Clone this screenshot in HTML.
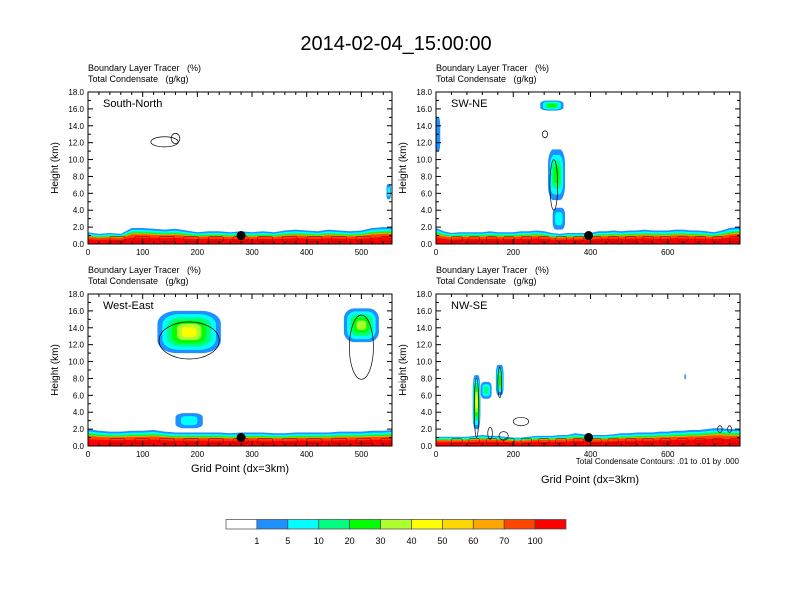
<!DOCTYPE html>
<html><head><meta charset="utf-8"><style>
body{margin:0;background:#fff;}
svg{display:block;font-family:"Liberation Sans",sans-serif;}
</style></head><body>
<svg id="c" width="792" height="612" viewBox="0 0 792 612">
<text x="396" y="50" font-size="20" text-anchor="middle">2014-02-04_15:00:00</text>
</svg>
<script>
const colors=["#ffffff","#1e90ff","#00ffff","#00ff7f","#00ff00","#adff2f","#ffff00","#ffd700","#ffa500","#ff4500","#ff0000"];
const cbLabels=["1","5","10","20","30","40","50","60","70","100"];
const yTicks=[0,2,4,6,8,10,12,14,16,18];
const panelNames=["South-North","SW-NE","West-East","NW-SE"];
const xMaxes=[556,787,556,787];
const xTicksSN=[0,100,200,300,400,500];
const xTicksDiag=[0,200,400,600];
// boundary layer top heights (km), sampled every 20 grid points
const blSN=[1.4,1.2,1.3,1.2,1.9,1.9,1.8,1.7,1.8,1.6,1.4,1.5,1.5,1.4,1.5,1.4,1.5,1.4,1.6,1.7,1.6,1.5,1.7,1.6,1.5,1.6,1.9,2.0,2.0];
const blSWNE=[1.9,1.5,1.3,1.4,1.4,1.4,1.4,1.5,1.4,1.4,1.4,1.5,1.5,1.6,1.5,1.3,1.2,1.3,1.3,1.3,1.3,1.5,1.5,1.6,1.5,1.6,1.6,1.7,1.6,1.6,1.6,1.7,1.7,1.6,1.6,1.5,1.4,1.6,1.9,2.0];
const blWE=[2.0,1.8,1.7,1.7,1.8,1.8,1.9,1.7,1.6,1.6,1.6,1.6,1.6,1.5,1.6,1.6,1.6,1.5,1.5,1.6,1.6,1.6,1.6,1.7,1.7,1.7,1.8,1.8,1.9];
const blNWSE=[1.1,1.1,1.1,1.1,1.1,1.2,1.3,1.2,1.2,1.1,1.0,1.0,1.1,1.2,1.2,1.2,1.3,1.3,1.5,1.4,1.3,1.3,1.3,1.4,1.5,1.5,1.6,1.6,1.6,1.7,1.7,1.8,1.8,1.9,1.9,2.0,2.1,2.1,2.0,2.0];
const blProfiles=[blSN,blSWNE,blWE,blNWSE];
// cloud blobs: [grid x, height km, half-width grid, half-height km, max color level]
const cloudsSN=[[550,6.2,4,0.9,2]];
const cloudsSWNE=[[300,16.4,30,0.6,4],[5,13,6,2.0,1],[312,8.2,22,3.0,4],[318,3,16,1.3,2]];
const cloudsWE=[[185,13.5,58,2.5,6],[500,14.3,32,2.0,5],[185,3,25,0.9,2]];
const cloudsNWSE=[[105,5.2,10,3.2,6],[130,6.6,14,1,3],[165,7.8,10,1.8,4],[645,8.2,2,0.3,1]];
const cloudSets=[cloudsSN,cloudsSWNE,cloudsWE,cloudsNWSE];
// condensate contours: [grid x, height km, half-width grid, half-height km]
const contSN=[[140,12.1,25,0.6],[160,12.5,8,0.6]];
const contSWNE=[[282,13.0,7,0.4],[305,7.0,10,3.0]];
const contWE=[[185,12.5,55,2.2],[500,11.7,22,3.8]];
const contNWSE=[[105,4.5,6,3.5],[165,7.5,5,1.8],[220,2.9,20,0.5],[140,1.5,6,0.7],[175,1.2,12,0.5],[735,2.0,6,0.4],[760,2.0,5,0.4]];
const contSets=[contSN,contSWNE,contWE,contNWSE];
const dotX=[280,395,280,395];
const dotH=[1.0,1.0,1.0,1.0];

const svg=document.getElementById('c');
const NS="http://www.w3.org/2000/svg";
function mk(tag,attrs,parent){const e=document.createElementNS(NS,tag);for(const k in attrs)e.setAttribute(k,attrs[k]);(parent||svg).appendChild(e);return e;}
const origins=[[88,92],[436,92],[88,294],[436,294]];
const PW=304,PH=152;
for(let p=0;p<4;p++){
  const [ox,oy]=origins[p];const xm=xMaxes[p];
  const X=v=>ox+v/xm*PW;const Y=h=>oy+PH-h/18*PH;
  const g=mk('g',{});
  
  
  const clip=mk('clipPath',{id:'cl'+p},g);mk('rect',{x:ox,y:oy,width:PW,height:PH},clip);
  const plot=mk('g',{'clip-path':'url(#cl'+p+')'},g);
  const prof=blProfiles[p];const fr=[1,0.88,0.78,0.72,0.66,0.6,0.4];const lv=[1,2,3,4,8,9,10];
  for(let k=0;k<fr.length;k++){
    let d='M'+X(0)+','+Y(0);
    prof.forEach((h,i)=>{d+=' L'+X(Math.min(i*20,xm)).toFixed(1)+','+Y(h*fr[k]).toFixed(1);});
    d+=' L'+X(xm)+','+Y(prof[prof.length-1]*fr[k])+' L'+X(xm)+','+Y(0)+'Z';
    const b=mk('path',{d:d,fill:colors[lv[k]]},plot);
    
    
  }
  cloudSets[p].forEach(c=>{
    for(let l=1;l<=c[4];l++){
      const s=1-(l-1)/(c[4]+0.5);
      const w=2*(c[2]*s)/xm*PW,h=2*(c[3]*s)/18*PH;
      const e=mk('rect',{x:X(c[0])-w/2,y:Y(c[1])-h/2,width:w,height:h,rx:w*0.3,ry:h*0.3,fill:colors[l]},plot);
      
      
    }
  });
  contSets[p].forEach(c=>{
    const e=mk('ellipse',{cx:X(c[0]),cy:Y(c[1]),rx:c[2]/xm*PW,ry:c[3]/18*PH,fill:'none',stroke:'#000','stroke-width':0.7},plot);
    
    
  });
  for(let v=40;v<xm-20;v+=45){
    const r=mk('rect',{x:X(v),y:Y(0.9),width:28/xm*PW,height:Y(0.3)-Y(0.9),fill:'none',stroke:'#600','stroke-width':0.5,rx:2},plot);
    
    
  }
  const dot=mk('circle',{cx:X(dotX[p]),cy:Y(dotH[p]),r:4.5,fill:'#000'},plot);
  
  
  mk('rect',{x:ox,y:oy,width:PW,height:PH,fill:'none',stroke:'#000','stroke-width':1},g);
  yTicks.forEach(t=>{
    const y=Y(t);
    mk('line',{x1:ox,y1:y,x2:ox+5,y2:y,stroke:'#000'},g);
    mk('line',{x1:ox+PW,y1:y,x2:ox+PW-5,y2:y,stroke:'#000'},g);
    if(t<18){const ym=Y(t+1);mk('line',{x1:ox,y1:ym,x2:ox+3,y2:ym,stroke:'#000'},g);mk('line',{x1:ox+PW,y1:ym,x2:ox+PW-3,y2:ym,stroke:'#000'},g);}
    const tx=mk('text',{x:ox-4,y:y+3,'font-size':8,'text-anchor':'end'},g);tx.textContent=t.toFixed(1);
    
    
  });
  const xt=(p%2==0)?xTicksSN:xTicksDiag;
  const step=xt[1]-xt[0];
  xt.forEach(t=>{
    const x=X(t);
    mk('line',{x1:x,y1:oy+PH,x2:x,y2:oy+PH-5,stroke:'#000'},g);
    mk('line',{x1:x,y1:oy,x2:x,y2:oy+5,stroke:'#000'},g);
    for(let m=1;m<5;m++){const xv=t+m*step/5;if(xv<=xm){const xx=X(xv);mk('line',{x1:xx,y1:oy+PH,x2:xx,y2:oy+PH-3,stroke:'#000'},g);mk('line',{x1:xx,y1:oy,x2:xx,y2:oy+3,stroke:'#000'},g);}}
    const tx=mk('text',{x:x,y:oy+PH+11,'font-size':8,'text-anchor':'middle'},g);tx.textContent=t;
    
    
  });
  const yl=mk('text',{x:0,y:0,'font-size':10,'text-anchor':'middle',transform:'translate('+(ox-30)+','+(oy+PH/2)+') rotate(-90)'},g);yl.textContent='Height (km)';
  
  
  const nm=mk('text',{x:ox+15,y:oy+15,'font-size':11},g);nm.textContent=panelNames[p];
  
  
  const h1=mk('text',{x:ox,y:oy-21,'font-size':9},g);h1.textContent='Boundary Layer Tracer   (%)';h1.style.whiteSpace='pre';
  
  
  const h2=mk('text',{x:ox,y:oy-10,'font-size':9},g);h2.textContent='Total Condensate   (g/kg)';h2.style.whiteSpace='pre';
  
  
}
const xl1=mk('text',{x:240,y:472,'font-size':11,'text-anchor':'middle'});xl1.textContent='Grid Point (dx=3km)';


const xl2=mk('text',{x:590,y:483,'font-size':11,'text-anchor':'middle'});xl2.textContent='Grid Point (dx=3km)';


const cn=mk('text',{x:739,y:464,'font-size':8,'text-anchor':'end'});cn.textContent='Total Condensate Contours: .01 to .01 by .000';


const cbX=226,cbW=340/11;
colors.forEach((c,i)=>{
  const r=mk('rect',{x:cbX+i*cbW,y:519.5,width:cbW,height:9.5,fill:c,stroke:'#444','stroke-width':0.7});
  
  
});
cbLabels.forEach((l,i)=>{
  const t=mk('text',{x:cbX+(i+1)*cbW,y:544,'font-size':9,'text-anchor':'middle'});t.textContent=l;
  
  
});
</script>
</body></html>
